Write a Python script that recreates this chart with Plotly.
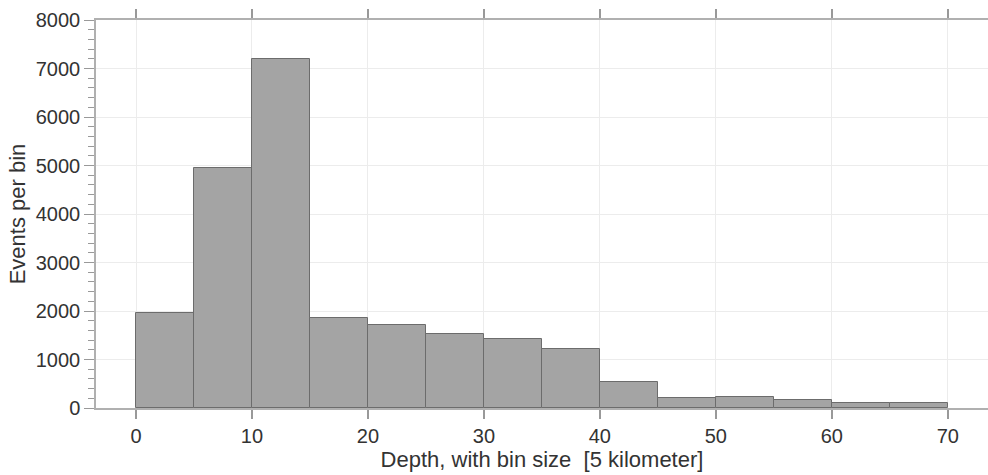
import plotly.graph_objects as go

bin_starts = [0, 5, 10, 15, 20, 25, 30, 35, 40, 45, 50, 55, 60, 65]
bin_size = 5
counts = [1950, 4945, 7200, 1862, 1718, 1519, 1423, 1210, 530, 200, 220, 172, 97, 97]
x_ticks = [0, 10, 20, 30, 40, 50, 60, 70]
y_ticks = [0, 1000, 2000, 3000, 4000, 5000, 6000, 7000, 8000]

centers = [s + bin_size / 2 for s in bin_starts]

fig = go.Figure()
fig.add_trace(go.Bar(
    x=centers, y=counts, width=[bin_size] * len(counts),
    marker=dict(color="#a4a4a4", line=dict(color="#6c6c6c", width=1)),
    showlegend=False,
))

tick_font = dict(family="Liberation Sans, Arial, sans-serif", size=20, color="#333333")
title_font = dict(family="Liberation Sans, Arial, sans-serif", size=22, color="#333333")

fig.update_layout(
    width=988, height=475,
    margin=dict(l=96, r=0, t=20, b=67),
    paper_bgcolor="white", plot_bgcolor="white",
    font=tick_font,
    bargap=0,
    xaxis=dict(
        range=[-3.45, 73.47],
        tickvals=x_ticks, ticktext=[str(v) for v in x_ticks],
        showgrid=True, gridcolor="#ececec", gridwidth=1,
        showline=True, linecolor="#b0b0b0", linewidth=1.5,
        ticks="outside", ticklen=9, tickcolor="#999999", tickwidth=1.5,
        mirror="ticks", zeroline=False,
        title=dict(text="Depth, with bin size  [5 kilometer]", standoff=6, font=title_font),
        tickfont=tick_font,
    ),
    yaxis=dict(
        range=[0, 8000],
        tickvals=y_ticks, ticktext=[str(v) for v in y_ticks],
        showgrid=True, gridcolor="#ececec", gridwidth=1,
        showline=True, linecolor="#b0b0b0", linewidth=1.5,
        ticks="outside", ticklen=10, tickcolor="#999999", tickwidth=1.2,
        minor=dict(dtick=200, ticks="outside", ticklen=6, tickcolor="#999999", tickwidth=1, showgrid=False),
        zeroline=False,
        title=dict(text="Events per bin", standoff=4, font=title_font),
        tickfont=tick_font,
    ),
)

fig.write_html("out.html")
